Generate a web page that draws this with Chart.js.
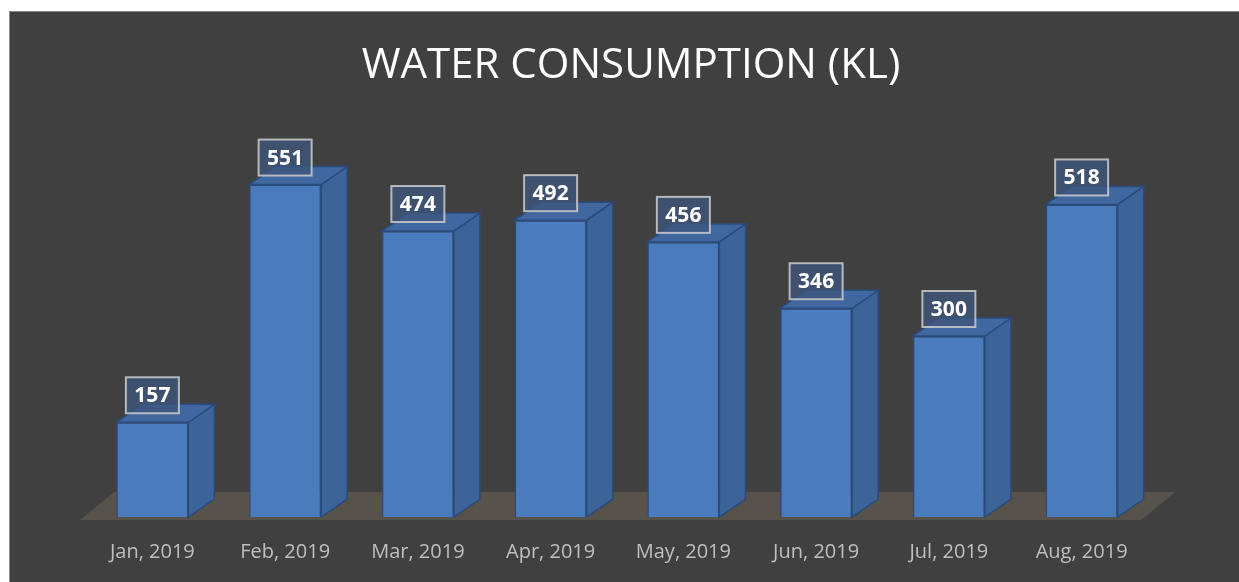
<!DOCTYPE html>
<html>
<head>
<meta charset="utf-8">
<script src="https://cdn.jsdelivr.net/npm/chart.js@4.4.1/dist/chart.umd.min.js"></script>
<style>
  html, body { margin: 0; padding: 0; background: #ffffff; }
  #wrap { position: absolute; left: 9px; top: 11px; width: 1230px; height: 571px;
          background: #404040; border-top: 1px solid #8c8c8c; border-left: 1px solid #8c8c8c; box-sizing: border-box; }
  canvas { display: block; }
</style>
</head>
<body>
<div id="wrap"><canvas id="c" width="1229" height="570"></canvas></div>
<script>
const categories = ["Jan, 2019", "Feb, 2019", "Mar, 2019", "Apr, 2019", "May, 2019", "Jun, 2019", "Jul, 2019", "Aug, 2019"];
const consumption = [157, 551, 474, 492, 456, 346, 300, 518];
const chartTitle = "WATER CONSUMPTION (KL)";

const DX = 26, DY = -18;

const titlePlugin = {
  id: 'titleText',
  afterDraw(chart) {
    const ctx = chart.ctx;
    ctx.save();
    ctx.fillStyle = '#ffffff';
    ctx.font = "42px 'Open Sans'";
    ctx.textAlign = 'center';
    ctx.textBaseline = 'alphabetic';
    ctx.fillText(chartTitle, 621, 66);
    ctx.restore();
  }
};

const floorPlugin = {
  id: 'floor3d',
  beforeDatasetsDraw(chart) {
    const ctx = chart.ctx, a = chart.chartArea;
    const base = chart.scales.y.getPixelForValue(0);
    const fl = a.left - 6, fr = a.right - 7, fy = base + 3, bx = 34, by = -28;
    ctx.save();
    ctx.fillStyle = '#58534a';
    ctx.beginPath();
    ctx.moveTo(fl, fy);
    ctx.lineTo(fr, fy);
    ctx.lineTo(fr + bx, fy + by);
    ctx.lineTo(fl + bx, fy + by);
    ctx.closePath();
    ctx.fill();
    ctx.restore();
  }
};

const bar3dPlugin = {
  id: 'bar3d',
  afterDatasetsDraw(chart) {
    const ctx = chart.ctx;
    const meta = chart.getDatasetMeta(0);
    ctx.save();
    meta.data.forEach((el) => {
      const l = el.x - el.width / 2, r = el.x + el.width / 2, t = el.y, b = el.base;
      ctx.lineWidth = 1.5;
      ctx.strokeStyle = '#2a4b7c';
      ctx.fillStyle = '#3d6499';
      ctx.beginPath();
      ctx.moveTo(r, t); ctx.lineTo(r + DX, t + DY); ctx.lineTo(r + DX, b + DY); ctx.lineTo(r, b);
      ctx.closePath(); ctx.fill(); ctx.stroke();
      ctx.fillStyle = '#40679f';
      ctx.beginPath();
      ctx.moveTo(l, t); ctx.lineTo(l + DX, t + DY); ctx.lineTo(r + DX, t + DY); ctx.lineTo(r, t);
      ctx.closePath(); ctx.fill(); ctx.stroke();
    });
    meta.data.forEach((el, i) => {
      const w = 53, h = 36;
      const cx = el.x, bottom = el.y - 9;
      ctx.fillStyle = 'rgba(62, 86, 124, 0.78)';
      ctx.fillRect(cx - w / 2, bottom - h, w, h);
      ctx.strokeStyle = 'rgba(205, 205, 205, 0.85)';
      ctx.lineWidth = 2;
      ctx.strokeRect(cx - w / 2, bottom - h, w, h);
      ctx.fillStyle = '#ffffff';
      ctx.font = "bold 21px 'Open Sans'";
      ctx.textAlign = 'center';
      ctx.textBaseline = 'middle';
      ctx.fillText(String(consumption[i]), cx, bottom - h / 2 + 1);
    });
    ctx.restore();
  }
};

new Chart(document.getElementById('c'), {
  type: 'bar',
  data: {
    labels: categories,
    datasets: [{
      data: consumption,
      backgroundColor: '#4a7bbd',
      borderColor: '#2a4b7c',
      borderWidth: 1.5,
      barPercentage: 0.543,
      categoryPercentage: 1.0
    }]
  },
  options: {
    responsive: false,
    animation: false,
    devicePixelRatio: 1,
    layout: { padding: { left: 76, right: 91, top: 143, bottom: 0 } },
    plugins: {
      legend: { display: false },
      tooltip: { enabled: false },
      title: { display: false }
    },
    scales: {
      x: {
        grid: { display: false, drawTicks: false },
        border: { display: false },
        ticks: { color: '#bfbfbf', font: { family: "'Open Sans'", size: 20 }, padding: 23 },
        afterFit(scale) { scale.height = 65; }
      },
      y: {
        display: false,
        min: 0,
        max: 600
      }
    }
  },
  plugins: [floorPlugin, bar3dPlugin, titlePlugin]
});
</script>
</body>
</html>
